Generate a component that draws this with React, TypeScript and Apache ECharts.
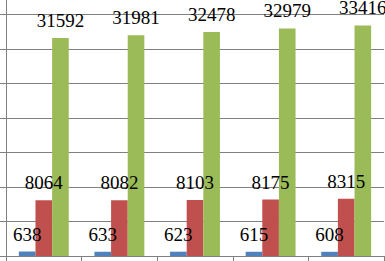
import React, { useEffect, useRef } from "react";
import * as echarts from "echarts";

const categories = ["1", "2", "3", "4", "5"];
const series1 = [638, 633, 623, 615, 608];
const series2 = [8064, 8082, 8103, 8175, 8315];
const series3 = [31592, 31981, 32478, 32979, 33416];
const seriesNames = ["Series 1", "Series 2", "Series 3"];
const colors = ["#4F81BD", "#C0504D", "#9BBB59"];

const FONT = "Times New Roman, Liberation Serif, DejaVu Serif, serif";

export default function App() {
  const ref = useRef<HTMLDivElement>(null);
  useEffect(() => {
    if (!ref.current) return;
    const chart = echarts.init(ref.current, null, { renderer: "svg" });
    const label = {
      show: true,
      position: "top" as const,
      distance: 8,
      color: "#000",
      fontFamily: FONT,
      fontSize: 19,
    };
    const data = [series1, series2, series3];
    chart.setOption({
      animation: false,
      textStyle: { fontFamily: FONT },
      grid: {
        left: 6,
        right: 1,
        bottom: 5,
        top: -20,
        containLabel: false,
        outerBoundsMode: "none",
      },
      xAxis: {
        type: "category",
        data: categories,
        axisLine: { show: true, lineStyle: { color: "#808080", width: 1 } },
        axisTick: { show: true, length: 6, lineStyle: { color: "#808080" } },
        axisLabel: { show: false },
        splitLine: { show: false },
      },
      yAxis: {
        type: "value",
        min: 0,
        max: 40000,
        interval: 5000,
        axisLine: { show: true, lineStyle: { color: "#808080", width: 1 } },
        axisTick: { show: true, length: 6, lineStyle: { color: "#808080" } },
        axisLabel: { show: false },
        splitLine: { show: true, lineStyle: { color: "#808080", width: 1 } },
      },
      series: data.map((d, i) => ({
        name: seriesNames[i],
        type: "bar",
        data: d,
        barGap: "0%",
        barCategoryGap: "34%",
        itemStyle: { color: colors[i] },
        label,
      })),
    });
    return () => chart.dispose();
  }, []);
  return (
    <div
      ref={ref}
      style={{ position: "fixed", left: 0, top: 0, width: 385, height: 261, background: "#fff" }}
    />
  );
}
